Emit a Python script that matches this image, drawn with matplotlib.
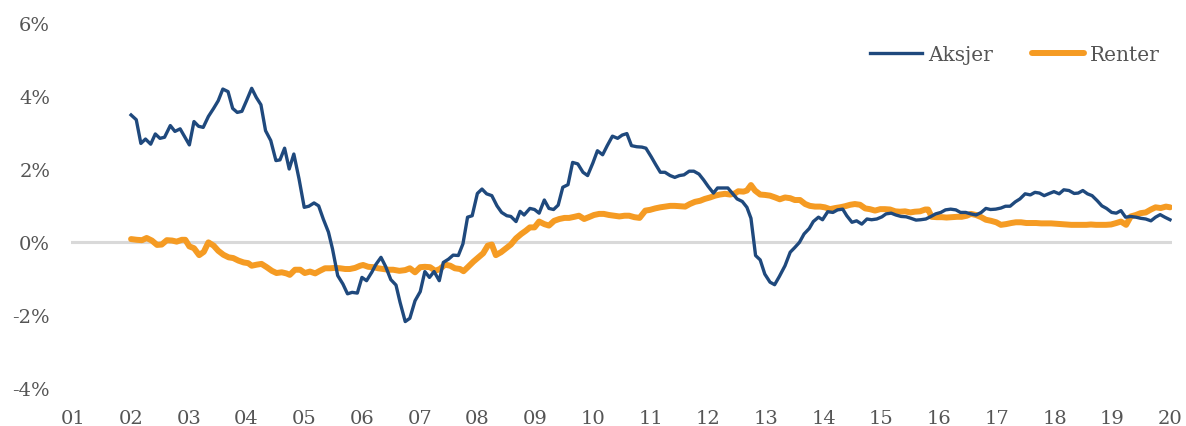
# Aksjer og renter: linjediagram 2002-2020

import matplotlib.pyplot as plt

plt.rcParams['font.family'] = ['DejaVu Serif']

# data (prosent), lest av figuren, omtrent månedlig
aksjer_ar = [2002.00, 2002.09, 2002.17, 2002.25, 2002.34, 2002.42, 2002.50, 2002.58, 2002.68, 2002.76, 2002.85, 2002.92,
             2003.01, 2003.09, 2003.17, 2003.25, 2003.34, 2003.43, 2003.51, 2003.59, 2003.68, 2003.76, 2003.84, 2003.92,
             2004.00, 2004.09, 2004.17, 2004.25, 2004.33, 2004.42, 2004.51, 2004.58, 2004.66, 2004.74, 2004.82, 2004.91,
             2005.00, 2005.08, 2005.17, 2005.25, 2005.33, 2005.42, 2005.49, 2005.58, 2005.67, 2005.75, 2005.83, 2005.92,
             2006.00, 2006.08, 2006.17, 2006.24, 2006.33, 2006.41, 2006.50, 2006.59, 2006.66, 2006.75, 2006.83, 2006.92,
             2007.01, 2007.09, 2007.17, 2007.25, 2007.34, 2007.41, 2007.50, 2007.58, 2007.67, 2007.75, 2007.83, 2007.91,
             2008.00, 2008.08, 2008.16, 2008.25, 2008.34, 2008.42, 2008.51, 2008.58, 2008.67, 2008.74, 2008.81, 2008.91,
             2008.99, 2009.07, 2009.16, 2009.24, 2009.32, 2009.40, 2009.48, 2009.57, 2009.65, 2009.74, 2009.83, 2009.91,
             2010.00, 2010.08, 2010.17, 2010.25, 2010.34, 2010.43, 2010.51, 2010.59, 2010.67, 2010.76, 2010.85, 2010.92,
             2011.01, 2011.09, 2011.17, 2011.25, 2011.34, 2011.42, 2011.50, 2011.58, 2011.67, 2011.75, 2011.84, 2011.92,
             2012.00, 2012.09, 2012.16, 2012.25, 2012.34, 2012.42, 2012.50, 2012.59, 2012.67, 2012.74, 2012.82, 2012.90, 2012.98,
             2013.07, 2013.15, 2013.23, 2013.33, 2013.42, 2013.50, 2013.58, 2013.66, 2013.75, 2013.82, 2013.91, 2013.98,
             2014.07, 2014.16, 2014.24, 2014.33, 2014.40, 2014.49, 2014.57, 2014.66, 2014.75, 2014.83, 2014.92,
             2015.01, 2015.08, 2015.17, 2015.25, 2015.34, 2015.43, 2015.51, 2015.60, 2015.68, 2015.77, 2015.86, 2015.94,
             2016.03, 2016.11, 2016.20, 2016.29, 2016.37, 2016.46, 2016.55, 2016.64, 2016.73, 2016.81, 2016.89, 2016.98,
             2017.07, 2017.15, 2017.23, 2017.32, 2017.40, 2017.49, 2017.58, 2017.66, 2017.74, 2017.82, 2017.91, 2017.99,
             2018.08, 2018.16, 2018.25, 2018.34, 2018.41, 2018.49, 2018.57, 2018.65, 2018.74, 2018.82, 2018.90, 2018.99,
             2019.07, 2019.15, 2019.23, 2019.32, 2019.41, 2019.49, 2019.58, 2019.67, 2019.75, 2019.83, 2019.91, 2020.00]
aksjer = [3.48, 3.35, 2.70, 2.82, 2.68, 2.96, 2.84, 2.87, 3.19, 3.03, 3.10, 2.91,
          2.66, 3.30, 3.17, 3.14, 3.44, 3.66, 3.87, 4.19, 4.12, 3.66, 3.55, 3.58,
          3.87, 4.21, 3.96, 3.76, 3.05, 2.78, 2.23, 2.25, 2.57, 2.00, 2.41, 1.73,
          0.95, 0.98, 1.07, 0.99, 0.63, 0.27, -0.19, -0.92, -1.15, -1.42, -1.38, -1.40,
          -0.97, -1.06, -0.83, -0.62, -0.42, -0.67, -1.03, -1.18, -1.65, -2.18, -2.09, -1.61,
          -1.36, -0.81, -0.97, -0.81, -1.06, -0.56, -0.47, -0.36, -0.37, -0.05, 0.68, 0.72,
          1.33, 1.45, 1.32, 1.27, 0.99, 0.81, 0.72, 0.70, 0.56, 0.84, 0.74, 0.92,
          0.89, 0.79, 1.15, 0.92, 0.89, 1.01, 1.50, 1.57, 2.18, 2.14, 1.91, 1.82,
          2.16, 2.50, 2.39, 2.64, 2.90, 2.84, 2.93, 2.97, 2.64, 2.61, 2.60, 2.57,
          2.34, 2.12, 1.91, 1.91, 1.82, 1.77, 1.82, 1.84, 1.94, 1.94, 1.86, 1.70,
          1.52, 1.34, 1.48, 1.48, 1.48, 1.33, 1.18, 1.11, 0.95, 0.65, -0.37, -0.49, -0.88,
          -1.10, -1.17, -0.95, -0.65, -0.28, -0.15, -0.01, 0.22, 0.37, 0.56, 0.68, 0.61,
          0.83, 0.81, 0.88, 0.90, 0.72, 0.54, 0.58, 0.49, 0.63, 0.61, 0.63,
          0.69, 0.77, 0.79, 0.74, 0.70, 0.69, 0.65, 0.60, 0.61, 0.63, 0.70, 0.77,
          0.81, 0.88, 0.90, 0.88, 0.81, 0.81, 0.77, 0.74, 0.81, 0.92, 0.89, 0.90,
          0.93, 0.98, 0.98, 1.10, 1.18, 1.32, 1.29, 1.36, 1.34, 1.27, 1.33, 1.38,
          1.32, 1.43, 1.41, 1.33, 1.34, 1.41, 1.32, 1.27, 1.13, 0.99, 0.92, 0.81,
          0.79, 0.86, 0.68, 0.70, 0.68, 0.65, 0.63, 0.58, 0.68, 0.75, 0.68, 0.61]

renter_ar = [2002.00, 2002.10, 2002.19, 2002.27, 2002.36, 2002.45, 2002.53, 2002.62, 2002.71, 2002.79, 2002.88, 2002.94,
             2003.01, 2003.09, 2003.18, 2003.26, 2003.34, 2003.43, 2003.51, 2003.60, 2003.69, 2003.77, 2003.86, 2003.95,
             2004.03, 2004.09, 2004.18, 2004.26, 2004.35, 2004.44, 2004.52, 2004.61, 2004.69, 2004.75, 2004.84, 2004.93,
             2005.01, 2005.10, 2005.19, 2005.27, 2005.36, 2005.45, 2005.53, 2005.62, 2005.71, 2005.79, 2005.88, 2005.97,
             2006.02, 2006.11, 2006.20, 2006.28, 2006.37, 2006.46, 2006.54, 2006.65, 2006.75, 2006.83, 2006.92,
             2007.01, 2007.09, 2007.18, 2007.27, 2007.35, 2007.44, 2007.53, 2007.61, 2007.70, 2007.76, 2007.84, 2007.93,
             2008.02, 2008.10, 2008.18, 2008.25, 2008.32, 2008.41, 2008.50, 2008.58, 2008.67, 2008.76, 2008.84, 2008.91,
             2008.99, 2009.07, 2009.16, 2009.24, 2009.33, 2009.42, 2009.51, 2009.59, 2009.68, 2009.76, 2009.85, 2009.93,
             2010.02, 2010.11, 2010.19, 2010.28, 2010.37, 2010.46, 2010.55, 2010.63, 2010.72, 2010.81, 2010.91, 2010.99,
             2011.08, 2011.17, 2011.25, 2011.34, 2011.42, 2011.51, 2011.60, 2011.68, 2011.77, 2011.86, 2011.94,
             2012.03, 2012.12, 2012.20, 2012.29, 2012.38, 2012.46, 2012.52, 2012.61, 2012.67, 2012.74, 2012.81, 2012.90, 2012.98,
             2013.07, 2013.16, 2013.24, 2013.33, 2013.42, 2013.50, 2013.59, 2013.68, 2013.76, 2013.85, 2013.94,
             2014.02, 2014.11, 2014.20, 2014.28, 2014.37, 2014.46, 2014.54, 2014.63, 2014.72, 2014.80, 2014.89, 2014.98,
             2015.06, 2015.15, 2015.24, 2015.32, 2015.41, 2015.50, 2015.58, 2015.67, 2015.76, 2015.81, 2015.87, 2015.96,
             2016.05, 2016.13, 2016.22, 2016.31, 2016.39, 2016.48, 2016.55, 2016.64, 2016.73, 2016.81, 2016.90, 2016.99,
             2017.07, 2017.16, 2017.25, 2017.33, 2017.42, 2017.51, 2017.59, 2017.68, 2017.77, 2017.85, 2017.94,
             2018.03, 2018.11, 2018.20, 2018.29, 2018.37, 2018.46, 2018.55, 2018.63, 2018.72, 2018.81, 2018.89, 2018.98,
             2019.07, 2019.15, 2019.24, 2019.32, 2019.41, 2019.49, 2019.58, 2019.67, 2019.75, 2019.84, 2019.93, 2020.00]
renter = [0.08, 0.06, 0.05, 0.11, 0.04, -0.08, -0.07, 0.05, 0.04, 0.01, 0.06, 0.06,
          -0.12, -0.17, -0.36, -0.27, -0.01, -0.10, -0.24, -0.35, -0.42, -0.44, -0.51, -0.56,
          -0.58, -0.65, -0.62, -0.60, -0.69, -0.79, -0.85, -0.83, -0.86, -0.90, -0.76, -0.76,
          -0.85, -0.81, -0.86, -0.79, -0.72, -0.72, -0.71, -0.72, -0.74, -0.74, -0.71, -0.65,
          -0.63, -0.68, -0.69, -0.72, -0.74, -0.76, -0.76, -0.79, -0.77, -0.72, -0.83,
          -0.69, -0.68, -0.69, -0.79, -0.74, -0.62, -0.65, -0.72, -0.74, -0.80, -0.68, -0.54,
          -0.42, -0.31, -0.10, -0.07, -0.36, -0.28, -0.17, -0.07, 0.10, 0.22, 0.31, 0.40,
          0.40, 0.56, 0.49, 0.45, 0.58, 0.63, 0.66, 0.66, 0.69, 0.72, 0.63, 0.68,
          0.74, 0.77, 0.77, 0.74, 0.72, 0.70, 0.72, 0.72, 0.68, 0.66, 0.86, 0.88,
          0.92, 0.95, 0.97, 0.99, 0.99, 0.98, 0.97, 1.04, 1.10, 1.13, 1.18,
          1.22, 1.27, 1.30, 1.32, 1.30, 1.33, 1.39, 1.38, 1.41, 1.56, 1.41, 1.30, 1.29,
          1.27, 1.22, 1.17, 1.22, 1.20, 1.15, 1.15, 1.04, 0.99, 0.97, 0.97,
          0.95, 0.90, 0.93, 0.95, 0.98, 1.02, 1.04, 1.02, 0.92, 0.90, 0.86, 0.90,
          0.90, 0.89, 0.84, 0.83, 0.84, 0.81, 0.83, 0.84, 0.89, 0.89, 0.69, 0.68,
          0.68, 0.67, 0.68, 0.69, 0.69, 0.72, 0.77, 0.74, 0.68, 0.61, 0.58, 0.54,
          0.47, 0.49, 0.52, 0.54, 0.54, 0.52, 0.52, 0.52, 0.51, 0.51, 0.51,
          0.50, 0.49, 0.48, 0.47, 0.47, 0.47, 0.47, 0.48, 0.47, 0.47, 0.47, 0.48,
          0.52, 0.56, 0.47, 0.70, 0.74, 0.79, 0.81, 0.89, 0.95, 0.93, 0.97, 0.95]

x_ticks = list(range(2001, 2021))
x_labels = ['01', '02', '03', '04', '05', '06', '07', '08', '09', '10',
            '11', '12', '13', '14', '15', '16', '17', '18', '19', '20']
y_ticks = [-4, -2, 0, 2, 4, 6]
y_labels = ['-4%', '-2%', '0%', '2%', '4%', '6%']

tekstfarge = '#555555'

fig = plt.figure(figsize=(11.86, 4.27), dpi=100)
ax = fig.add_axes([0.0599, 0.089, 0.9283, 0.8548])

ax.axhline(0, color='#D9D9D9', lw=2.2, zorder=1)
ax.plot(aksjer_ar, aksjer, color='#1F497D', lw=2.4, label='Aksjer', zorder=3)
ax.plot(renter_ar, renter, color='#F59B23', lw=4.3, label='Renter', zorder=2,
        solid_capstyle='round', solid_joinstyle='round')

ax.set_xlim(2000.96, 2020.035)
ax.set_ylim(-4, 6)
ax.set_xticks(x_ticks)
ax.set_xticklabels(x_labels)
ax.set_yticks(y_ticks)
ax.set_yticklabels(y_labels)
ax.tick_params(axis='both', length=0, labelsize=14, labelcolor=tekstfarge)
ax.tick_params(axis='x', pad=15)
ax.tick_params(axis='y', pad=15)
for s in ax.spines.values():
    s.set_visible(False)

leg = ax.legend(loc='center right', bbox_to_anchor=(0.978, 0.869), bbox_transform=fig.transFigure,
                ncol=2, frameon=False, fontsize=14.5, handlelength=2.6, handletextpad=0.3,
                columnspacing=1.9, borderpad=0, borderaxespad=0)
for t in leg.get_texts():
    t.set_color(tekstfarge)

fig.savefig('out.png', dpi=100)
